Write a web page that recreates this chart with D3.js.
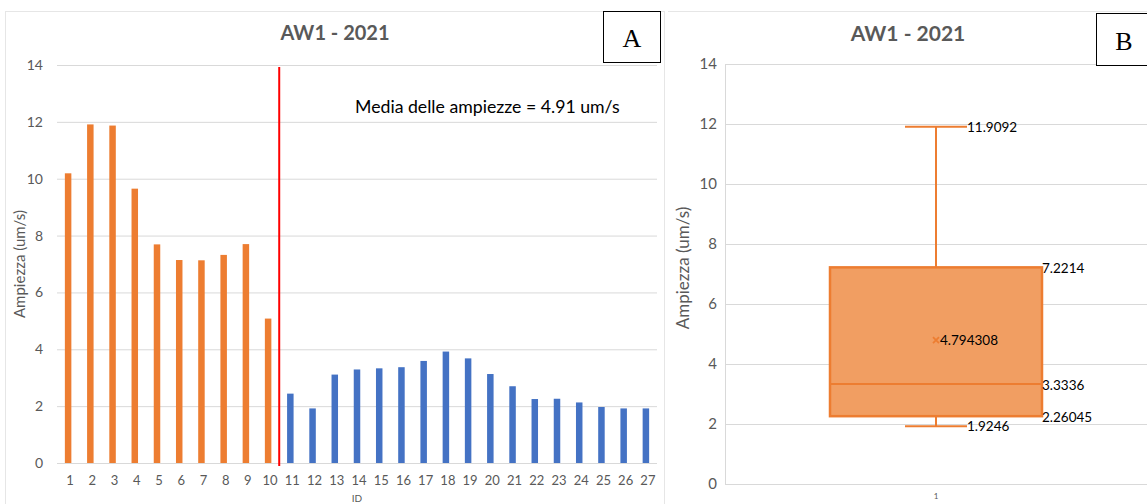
<!DOCTYPE html>
<html><head><meta charset="utf-8">
<script src="https://cdn.jsdelivr.net/npm/d3@7"></script>
<style>
body{margin:0;background:#fff;}
svg{display:block;font-family:Lato,"Open Sans",sans-serif;}
</style></head>
<body><svg id="c" width="1147" height="504"></svg>
<script>
// ---- data ----
const ids = d3.range(1, 28).map(String);
const orangeIds = ids.slice(0, 10);
const blueIds = ids.slice(10);
const orangeValues = [10.19, 11.91, 11.87, 9.65, 7.69, 7.14, 7.13, 7.32, 7.70, 5.08];
const blueValues = [2.44, 1.92, 3.11, 3.29, 3.33, 3.37, 3.59, 3.92, 3.68, 3.13, 2.70, 2.25, 2.26, 2.13, 1.97, 1.92, 1.92];
const yTicks = [0, 2, 4, 6, 8, 10, 12, 14];
const chartTitle = "AW1 - 2021";
const yLabel = "Ampiezza (um/s)";
const meanText = "Media delle ampiezze = 4.91 um/s";
const boxCategory = ["1"];
const boxMin = 1.9246, boxQ1 = 2.26045, boxMedian = 3.3336, boxQ3 = 7.2214, boxMax = 11.9092, boxMean = 4.794308;
const boxLabels = ["11.9092", "7.2214", "3.3336", "2.26045", "1.9246", "4.794308"];

const ORANGE = "#ED7D31", BLUE = "#4472C4", GRID = "#D9D9D9", TXT = "#595959";
const svg = d3.select("#c");
svg.append("rect").attr("width", 1147).attr("height", 504).attr("fill", "#fff");

// ---------- Panel A ----------
const A = svg.append("g");
A.append("rect").attr("x", 5.5).attr("y", 11.5).attr("width", 659).attr("height", 500)
  .attr("fill", "none").attr("stroke", "#E6E6E6");
const yA = d3.scaleLinear().domain([0, 14]).range([463, 65]);
const xA = d3.scaleBand().domain(ids).range([59, 659]);
A.append("g").selectAll("line").data(yTicks).join("line")
  .attr("x1", 57).attr("x2", 657).attr("y1", d => yA(d) + 0.5).attr("y2", d => yA(d) + 0.5)
  .attr("stroke", GRID).attr("stroke-width", 1);
const yAx = A.append("g").attr("transform", "translate(57,0)")
  .call(d3.axisLeft(yA).tickValues(yTicks).tickSize(0).tickPadding(14));
yAx.select(".domain").remove();
yAx.selectAll("text").attr("font-size", 14).attr("fill", TXT).style("font-family", "Lato");
const xAx = A.append("g").attr("transform", "translate(0,463)")
  .call(d3.axisBottom(xA).tickSize(0).tickPadding(13));
xAx.select(".domain").remove();
xAx.selectAll("text").attr("font-size", 13).attr("fill", TXT).style("font-family", "Lato");
const barW = 6.5;
A.append("g").selectAll("rect").data(orangeIds.map((id, i) => ({id, v: orangeValues[i]}))).join("rect")
  .attr("x", d => xA(d.id) + xA.bandwidth() / 2 - barW / 2 - 2).attr("width", barW)
  .attr("y", d => yA(d.v)).attr("height", d => yA(0) - yA(d.v)).attr("fill", ORANGE);
A.append("g").selectAll("rect").data(blueIds.map((id, i) => ({id, v: blueValues[i]}))).join("rect")
  .attr("x", d => xA(d.id) + xA.bandwidth() / 2 - barW / 2 - 2).attr("width", barW)
  .attr("y", d => yA(d.v)).attr("height", d => yA(0) - yA(d.v)).attr("fill", BLUE);
const sepX = xA("11") - 2;
A.append("line").attr("x1", sepX).attr("x2", sepX).attr("y1", 67).attr("y2", 466)
  .attr("stroke", "#FF0000").attr("stroke-width", 2);
A.append("text").attr("x", 335).attr("y", 40).attr("text-anchor", "middle")
  .attr("font-size", 20).attr("font-weight", "bold").attr("fill", TXT).text(chartTitle);
A.append("text").attr("transform", "translate(25,264) rotate(-90)").attr("text-anchor", "middle")
  .attr("font-size", 15).attr("fill", TXT).text(yLabel);
A.append("text").attr("x", 357).attr("y", 502).attr("text-anchor", "middle")
  .attr("font-size", 10).attr("fill", TXT).text("ID");
A.append("text").attr("x", 355).attr("y", 113).attr("font-size", 17.7).attr("fill", "#000").text(meanText);
A.append("rect").attr("x", 603.5).attr("y", 11.5).attr("width", 57).attr("height", 51)
  .attr("fill", "#fff").attr("stroke", "#000").attr("stroke-width", 1);
A.append("text").attr("x", 632).attr("y", 47).attr("text-anchor", "middle")
  .style("font-family", "'Liberation Serif', 'DejaVu Serif', serif").attr("font-size", 26).attr("fill", "#000").text("A");

// ---------- Panel B ----------
const B = svg.append("g");
B.append("line").attr("x1", 668).attr("x2", 1147).attr("y1", 11.5).attr("y2", 11.5).attr("stroke", "#E6E6E6");
const yB = d3.scaleLinear().domain([0, 14]).range([484, 64]);
const xB = d3.scaleBand().domain(boxCategory).range([725, 1147]);
B.append("g").selectAll("line").data(yTicks).join("line")
  .attr("x1", 725).attr("x2", 1147).attr("y1", d => yB(d) + 0.5).attr("y2", d => yB(d) + 0.5)
  .attr("stroke", GRID);
B.append("line").attr("x1", 725.5).attr("x2", 725.5).attr("y1", 64).attr("y2", 484).attr("stroke", GRID);
const yBx = B.append("g").attr("transform", "translate(725,0)")
  .call(d3.axisLeft(yB).tickValues(yTicks).tickSize(0).tickPadding(8));
yBx.select(".domain").remove();
yBx.selectAll("text").attr("font-size", 15).attr("fill", TXT).style("font-family", "Lato");
const xBx = B.append("g").attr("transform", "translate(0,484)")
  .call(d3.axisBottom(xB).tickSize(0).tickPadding(9));
xBx.select(".domain").remove();
xBx.selectAll("text").attr("font-size", 8).attr("fill", TXT).style("font-family", "Lato");
const cx = 936;
const boxHalf = 106, capHalf = 31;
B.append("line").attr("x1", cx).attr("x2", cx).attr("y1", yB(boxMax)).attr("y2", yB(boxQ3))
  .attr("stroke", ORANGE).attr("stroke-width", 2);
B.append("line").attr("x1", cx).attr("x2", cx).attr("y1", yB(boxQ1)).attr("y2", yB(boxMin))
  .attr("stroke", ORANGE).attr("stroke-width", 2);
B.append("line").attr("x1", cx - capHalf).attr("x2", cx + capHalf).attr("y1", yB(boxMax)).attr("y2", yB(boxMax))
  .attr("stroke", ORANGE).attr("stroke-width", 2);
B.append("line").attr("x1", cx - capHalf).attr("x2", cx + capHalf).attr("y1", yB(boxMin)).attr("y2", yB(boxMin))
  .attr("stroke", ORANGE).attr("stroke-width", 2);
B.append("rect").attr("x", cx - boxHalf).attr("width", boxHalf * 2)
  .attr("y", yB(boxQ3)).attr("height", yB(boxQ1) - yB(boxQ3))
  .attr("fill", "#F19E62").attr("stroke", ORANGE).attr("stroke-width", 2.5);
B.append("line").attr("x1", cx - boxHalf).attr("x2", cx + boxHalf).attr("y1", yB(boxMedian)).attr("y2", yB(boxMedian))
  .attr("stroke", ORANGE).attr("stroke-width", 2);
const my = yB(boxMean);
B.append("path").attr("d", `M${cx - 3},${my - 3}L${cx + 3},${my + 3}M${cx - 3},${my + 3}L${cx + 3},${my - 3}`)
  .attr("stroke", ORANGE).attr("stroke-width", 1.8);
const lab = [
  {t: boxLabels[0], x: cx + capHalf, v: boxMax, dy: 5},
  {t: boxLabels[1], x: cx + boxHalf, v: boxQ3, dy: 6},
  {t: boxLabels[2], x: cx + boxHalf, v: boxMedian, dy: 6},
  {t: boxLabels[3], x: cx + boxHalf, v: boxQ1, dy: 6},
  {t: boxLabels[4], x: cx + capHalf, v: boxMin, dy: 5},
  {t: boxLabels[5], x: cx + 4, v: boxMean, dy: 5}
];
B.append("g").selectAll("text").data(lab).join("text")
  .attr("x", d => d.x).attr("y", d => yB(d.v) + d.dy)
  .attr("font-size", 13.5).attr("fill", "#000").text(d => d.t);
B.append("text").attr("x", 908).attr("y", 41).attr("text-anchor", "middle")
  .attr("font-size", 21).attr("font-weight", "bold").attr("fill", TXT).text(chartTitle);
B.append("text").attr("transform", "translate(689,268) rotate(-90)").attr("text-anchor", "middle")
  .attr("font-size", 17).attr("fill", TXT).text(yLabel);
B.append("rect").attr("x", 1096.5).attr("y", 13.5).attr("width", 60).attr("height", 52)
  .attr("fill", "#fff").attr("stroke", "#000").attr("stroke-width", 1);
B.append("text").attr("x", 1124).attr("y", 50).attr("text-anchor", "middle")
  .style("font-family", "'Liberation Serif', 'DejaVu Serif', serif").attr("font-size", 26).attr("fill", "#000").text("B");
</script></body></html>
